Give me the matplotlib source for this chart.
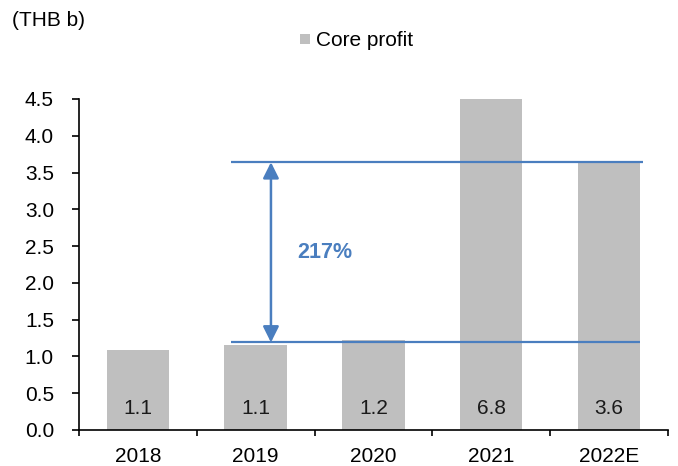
import matplotlib
matplotlib.use("Agg")
import matplotlib.pyplot as plt
from matplotlib.patches import Rectangle

plt.rcParams["font.family"] = ["Liberation Sans", "DejaVu Sans"]

YEARS = ["2018", "2019", "2020", "2021", "2022E"]
CORE_PROFIT = [1.09, 1.15, 1.23, 6.8, 3.64]
BAR_LABELS = ["1.1", "1.1", "1.2", "6.8", "3.6"]
Y_TICKS = [0.0, 0.5, 1.0, 1.5, 2.0, 2.5, 3.0, 3.5, 4.0, 4.5]

# reference lines for the growth arrow
LOW_LEVEL = 1.19
HIGH_LEVEL = 3.64
GROWTH_LABEL = "217%"

BAR_COLOR = "#BFBFBF"
BLUE = "#4A7EBF"
FS = 15

fig = plt.figure(figsize=(6.78, 4.66), dpi=100)
ax = fig.add_axes([0.1165, 0.0773, 0.8685, 0.7103])

x = list(range(len(YEARS)))
ax.bar(x, CORE_PROFIT, width=0.53, color=BAR_COLOR, zorder=1)

for xi, label in zip(x, BAR_LABELS):
    ax.text(xi, 0.29, label, ha="center", va="center", fontsize=FS, color="#1a1a1a", zorder=3)

ax.set_xlim(-0.5, len(YEARS) - 0.5)
ax.set_ylim(0, 4.5)

ax.hlines(HIGH_LEVEL, 0.79, 4.29, color=BLUE, linewidth=1.6, zorder=2)
ax.hlines(LOW_LEVEL, 0.79, 4.26, color=BLUE, linewidth=1.6, zorder=2)
ax.annotate(
    "",
    xy=(1.13, HIGH_LEVEL),
    xytext=(1.13, LOW_LEVEL),
    arrowprops=dict(arrowstyle="<|-|>", color=BLUE, lw=1.8, mutation_scale=24, shrinkA=0, shrinkB=0),
    zorder=2,
)
ax.text(1.35, 2.41, GROWTH_LABEL, ha="left", va="center", fontsize=15.5, color=BLUE, weight="bold")

ax.set_yticks(Y_TICKS)
ax.set_yticklabels([f"{v:.1f}" for v in Y_TICKS])
ax.set_xticks(x)
ax.set_xticklabels(YEARS)
ax.set_xticks([i - 0.5 for i in range(len(YEARS) + 1)], minor=True)

ax.tick_params(axis="y", direction="out", length=5, width=1.2, pad=13, labelsize=FS, colors="black")
ax.tick_params(axis="x", which="major", length=0, pad=12, labelsize=FS)
ax.tick_params(axis="x", which="minor", direction="out", length=4, width=1.2)

for side in ["top", "right"]:
    ax.spines[side].set_visible(False)
ax.spines["left"].set_linewidth(1.2)
ax.spines["bottom"].set_linewidth(1.2)

fig.text(0.018, 0.955, "(THB b)", ha="left", va="center", fontsize=FS)
fig.patches.append(
    Rectangle((0.443, 0.905), 0.014, 0.022, transform=fig.transFigure, facecolor=BAR_COLOR, edgecolor="none")
)
fig.text(0.466, 0.914, "Core profit", ha="left", va="center", fontsize=FS)

fig.savefig("out.png", dpi=100)
